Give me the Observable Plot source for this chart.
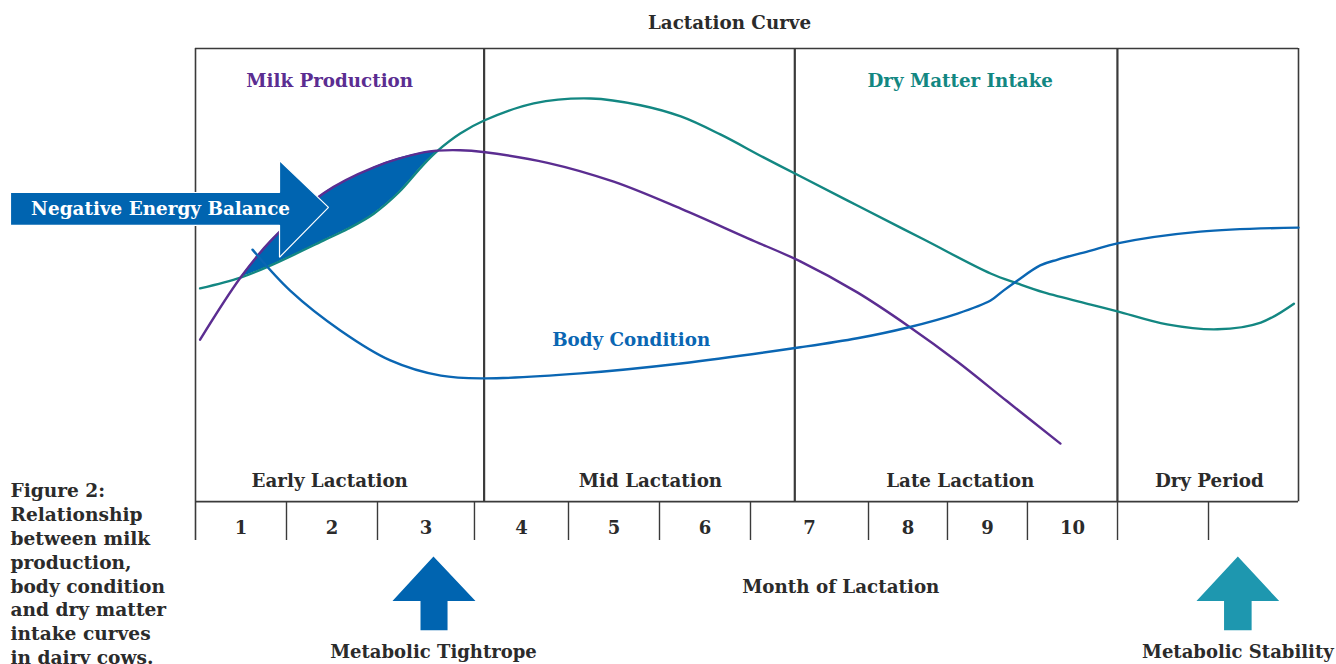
<!DOCTYPE html>
<html>
<head>
<meta charset="utf-8">
<script src="https://cdn.jsdelivr.net/npm/d3@7"></script>
<script src="https://cdn.jsdelivr.net/npm/@observablehq/plot@0.6"></script>
<style>
  html, body { margin: 0; padding: 0; background: #ffffff; }
  #chart svg { display: block; }
</style>
</head>
<body>
<div id="chart"></div>
<script>
// ---------- data (abstract timeline units: x 0..12, y 0..100) ----------
const phaseNames  = ["Early Lactation", "Mid Lactation", "Late Lactation", "Dry Period"];
const phaseBounds = [0, 3.14, 6.52, 10.03, 12];
const phaseLabelX = [1.46, 4.95, 8.32, 11.03];

const monthLabels = ["1", "2", "3", "4", "5", "6", "7", "8", "9", "10", "", ""];
const monthEdges  = [0, 0.99, 1.98, 3.035, 4.058, 5.048, 6.038, 7.322, 8.181, 9.051, 10.031, 11.021, 12];

const milkX = [0.05, 0.49, 0.82, 1.39, 1.94, 2.48, 2.63, 2.88, 3.13, 3.83, 4.55, 5.28, 6.01, 6.58, 7.20, 7.75, 8.29, 8.83, 9.41];
const milkY = [35.3, 49.1, 57.3, 67.8, 73.6, 76.9, 77.3, 77.4, 77.0, 74.6, 70.4, 64.4, 57.8, 52.7, 45.8, 38.4, 30.4, 21.6, 12.2];

const dmiX = [0.05, 0.49, 0.82, 1.39, 1.665, 1.94, 2.21, 2.48, 2.63, 2.88, 3.14, 3.68, 4.30, 4.84, 5.28, 5.71, 6.18, 6.58, 7.20, 7.92, 8.65, 8.94, 9.23, 9.74, 10.03, 10.57, 11.12, 11.59, 11.95];
const dmiY = [46.7, 49.1, 51.8, 57.3, 60.0, 63.3, 68.0, 74.2, 77.2, 81.1, 84.0, 87.8, 88.9, 87.4, 84.9, 80.9, 75.8, 71.6, 65.1, 57.6, 50.0, 47.8, 45.8, 43.1, 41.6, 38.7, 37.6, 39.1, 43.3];

const bodyX = [0.62, 1.03, 1.58, 2.12, 2.67, 3.13, 4.19, 5.28, 6.58, 7.20, 7.75, 8.29, 8.65, 8.79, 8.94, 9.19, 9.38, 9.74, 10.03, 10.93, 12.0];
const bodyY = [55.3, 46.2, 37.3, 30.7, 27.3, 26.7, 27.8, 30.0, 33.6, 35.6, 38.0, 41.1, 44.0, 46.2, 48.4, 51.8, 53.1, 55.1, 56.7, 59.3, 60.2];

// negative energy balance gap (milk above intake)
const gapX      = [0.49, 0.82, 1.39, 1.665, 1.94, 2.21, 2.48, 2.63];
const gapMilk   = [49.1, 57.3, 67.8, 70.7, 73.6, 75.6, 76.9, 77.2];
const gapIntake = [49.1, 51.8, 57.3, 60.0, 63.3, 68.0, 74.2, 77.2];

// block arrows [x, y]
const negArrow = [[-2.013, 68.0], [0.914, 68.0], [0.914, 75.1], [1.447, 64.7], [0.914, 53.6], [0.914, 60.7], [-2.013, 60.7], [-2.013, 68.0]];
const tightArrow = [[2.589, -12.9], [3.046, -22.8], [2.742, -22.8], [2.742, -29.3], [2.448, -29.3], [2.448, -22.8], [2.143, -22.8], [2.589, -12.9]];
const stableArrow = [[11.34, -12.9], [11.79, -22.8], [11.49, -22.8], [11.49, -29.3], [11.19, -29.3], [11.19, -22.8], [10.89, -22.8], [11.34, -12.9]];

const captionLines = ["Figure 2:", "Relationship", "between milk", "production,", "body condition", "and dry matter", "intake curves", "in dairy cows."];

// ---------- styling ----------
const FONT = '"DejaVu Serif", serif';
const INK = "#2b2b2b";
const FRAME = "#3a3a3a";
const PURPLE = "#5b2d91";
const TEAL = "#138782";
const BLUE = "#0a66b3";
const NEB = "#0064b0";
const STAB = "#1e97af";
const FS = 18.3;

const pts = (xs, ys) => xs.map((x, i) => ({x, y: ys[i]}));
const rowTop = -0.7, rowBottom = -9.33;

const monthCells = monthLabels.map((m, i) => ({label: m, x: (monthEdges[i] + monthEdges[i + 1]) / 2}));

const chart = Plot.plot({
  width: 1336,
  height: 664,
  marginTop: 48,
  marginBottom: 166,
  marginLeft: 195,
  marginRight: 38,
  x: {domain: [0, 12], axis: null},
  y: {domain: [0, 100], axis: null},
  style: {fontFamily: FONT, background: "#ffffff", overflow: "visible"},
  marks: [
    // outer frame
    Plot.ruleY([100], {x1: 0, x2: 12, stroke: FRAME, strokeWidth: 1.6}),
    Plot.ruleY([rowTop], {x1: 0, x2: 12, stroke: FRAME, strokeWidth: 1.6}),
    Plot.ruleX([0], {y1: rowBottom, y2: 100, stroke: FRAME, strokeWidth: 1.6}),
    Plot.ruleX([12], {y1: rowTop, y2: 100, stroke: FRAME, strokeWidth: 1.6}),
    // phase dividers
    Plot.ruleX(phaseBounds.slice(1, -1), {y1: rowTop, y2: 100, stroke: FRAME, strokeWidth: 2.2}),
    // month cell dividers
    Plot.ruleX(monthEdges.slice(1, -1), {y1: rowTop, y2: rowBottom, stroke: FRAME, strokeWidth: 1.4}),

    // negative energy balance fill
    Plot.areaY(gapX.map((x, i) => ({x, lo: gapIntake[i], hi: gapMilk[i]})),
      {x: "x", y1: "lo", y2: "hi", fill: NEB, curve: "catmull-rom"}),

    // curves
    Plot.line(pts(dmiX, dmiY), {x: "x", y: "y", stroke: TEAL, strokeWidth: 2.4, curve: "catmull-rom"}),
    Plot.line(pts(milkX, milkY), {x: "x", y: "y", stroke: PURPLE, strokeWidth: 2.4, curve: "catmull-rom"}),
    Plot.line(pts(bodyX, bodyY), {x: "x", y: "y", stroke: BLUE, strokeWidth: 2.4, curve: "catmull-rom"}),

    // negative energy balance arrow
    Plot.line(negArrow, {x: d => d[0], y: d => d[1], fill: NEB, stroke: "#ffffff", strokeWidth: 1.2, curve: "linear", strokeLinejoin: "miter"}),
    Plot.text(["Negative Energy Balance"], {x: -0.38, y: 64.4, text: d => d, fill: "#ffffff", fontSize: 18.4, fontWeight: "bold", lineAnchor: "middle"}),

    // series labels
    Plot.text(["Milk Production"], {x: 1.46, y: 92.7, text: d => d, fill: PURPLE, fontSize: FS, fontWeight: "bold", lineAnchor: "middle"}),
    Plot.text(["Dry Matter Intake"], {x: 8.32, y: 92.7, text: d => d, fill: TEAL, fontSize: FS, fontWeight: "bold", lineAnchor: "middle"}),
    Plot.text(["Body Condition"], {x: 4.74, y: 35.1, text: d => d, fill: BLUE, fontSize: FS, fontWeight: "bold", lineAnchor: "middle"}),

    // phase labels
    Plot.text(phaseNames, {x: (d, i) => phaseLabelX[i], y: 3.78, text: d => d, fill: INK, fontSize: FS, fontWeight: "bold", lineAnchor: "middle"}),
    // month numbers
    Plot.text(monthCells, {x: "x", y: -6.67, text: "label", fill: INK, fontSize: 18, fontWeight: "bold", lineAnchor: "middle"}),

    // titles
    Plot.text(["Lactation Curve"], {x: 5.81, y: 105.6, text: d => d, fill: INK, fontSize: FS, fontWeight: "bold", lineAnchor: "middle"}),
    Plot.text(["Month of Lactation"], {x: 7.02, y: -19.6, text: d => d, fill: INK, fontSize: FS, fontWeight: "bold", lineAnchor: "middle"}),

    // bottom arrows
    Plot.line(tightArrow, {x: d => d[0], y: d => d[1], fill: NEB, stroke: "none", curve: "linear"}),
    Plot.line(stableArrow, {x: d => d[0], y: d => d[1], fill: STAB, stroke: "none", curve: "linear"}),
    Plot.text(["Metabolic Tightrope"], {x: 2.589, y: -34.2, text: d => d, fill: INK, fontSize: 18, fontWeight: "bold", lineAnchor: "middle"}),
    Plot.text(["Metabolic Stability"], {x: 11.34, y: -34.2, text: d => d, fill: INK, fontSize: 18, fontWeight: "bold", lineAnchor: "middle"}),

    // caption
    Plot.text([captionLines.join("\n")], {x: -2.013, y: 4.0, text: d => d, fill: INK, fontSize: 18.6, fontWeight: "bold", textAnchor: "start", lineAnchor: "top", lineHeight: 1.28})
  ]
});
document.getElementById("chart").appendChild(chart);
</script>
</body>
</html>
